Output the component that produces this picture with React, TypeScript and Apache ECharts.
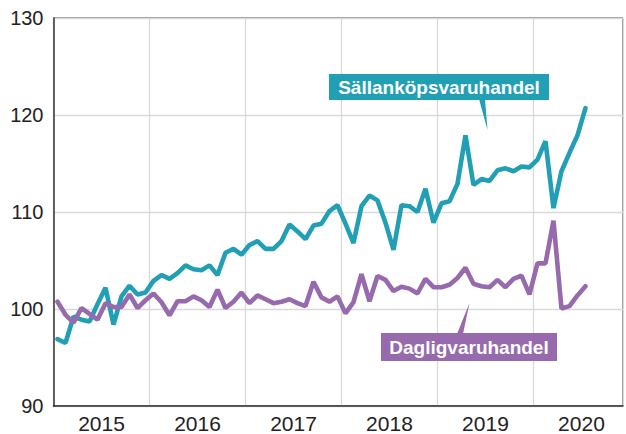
import React, { useEffect, useRef } from "react";
import * as echarts from "echarts";

const startYear = 2015;
const yearLabels = ["2015", "2016", "2017", "2018", "2019", "2020"];
const yTicks = [90, 100, 110, 120, 130];

const sallankop = [
  96.9, 96.5, 99.2, 98.9, 98.7, 100.5, 102.2, 98.4, 101.3, 102.4,
  101.5, 101.7, 102.9, 103.5, 103.1, 103.7, 104.5, 104.1, 104.0, 104.5,
  103.5, 105.8, 106.2, 105.6, 106.6, 107.0, 106.2, 106.2, 107.0, 108.7,
  108.0, 107.2, 108.6, 108.8, 110.1, 110.7, 108.8, 106.8, 110.6, 111.7,
  111.2, 108.9, 106.1, 110.7, 110.6, 110.0, 112.4, 108.9, 110.9, 111.1,
  112.9, 117.9, 112.8, 113.4, 113.2, 114.3, 114.5, 114.2, 114.7, 114.6,
  115.4, 117.3, 110.4, 114.2, 116.1, 117.9, 120.7,
];

const dagligvaru = [
  100.75, 99.4, 98.6, 100.1, 99.5, 98.9, 100.6, 100.2, 100.2, 101.5,
  100.1, 100.9, 101.6, 100.7, 99.35, 100.8, 100.8, 101.3, 100.9, 100.2,
  102.0, 100.1, 100.75, 101.7, 100.6, 101.4, 101.0, 100.6, 100.75, 101.0,
  100.6, 100.3, 102.8, 101.2, 100.75, 101.3, 99.55, 100.7, 103.6, 100.8,
  103.4, 103.0, 101.85, 102.3, 102.1, 101.6, 103.1, 102.25, 102.25, 102.5,
  103.2, 104.25, 102.6, 102.35, 102.25, 103.0, 102.25, 103.1, 103.45, 101.5,
  104.7, 104.7, 109.1, 100.05, 100.3, 101.4, 102.35,
];

const TEAL = "#219fb5";
const PURPLE = "#966aad";
const FONT = "'Liberation Sans', Arial, Helvetica, sans-serif";

// month index -> decimal year at the middle of the month
const toPoints = (vals: number[]) =>
  vals.map((v, i) => [startYear + (i + 0.5) / 12, v]);

export default function App() {
  const ref = useRef<HTMLDivElement>(null);
  useEffect(() => {
    document.body.style.margin = "0";
    if (!ref.current) return;
    const chart = echarts.init(ref.current, undefined, { renderer: "svg" });
    const gridLeft = 53.5;
    const gridRight = 0;
    const plotW = 626 - gridLeft - gridRight;
    const yearW = 96.5;
    const xMax = startYear + plotW / yearW;
    chart.setOption({
      animation: false,
      backgroundColor: "#ffffff",
      grid: {
        left: gridLeft,
        right: gridRight,
        top: 18,
        bottom: 27.3,
        show: true,
        borderColor: "#333",
        borderWidth: 1,
        containLabel: false,
      },
      xAxis: [
        {
          type: "value",
          min: startYear,
          max: xMax,
          interval: 0.5,
          position: "bottom",
          axisLine: { show: true, lineStyle: { color: "#333", width: 1.5 } },
          axisTick: { show: false },
          splitLine: { show: false },
          axisLabel: {
            fontFamily: FONT,
            fontSize: 21,
            color: "#222",
            margin: 7,
            formatter: (v: number) => {
              const f = v - Math.floor(v);
              if (Math.abs(f - 0.5) > 1e-6) return "";
              const idx = Math.floor(v) - startYear;
              return yearLabels[idx] ?? "";
            },
          },
        },
        {
          type: "value",
          min: startYear,
          max: xMax,
          interval: 1,
          position: "top",
          axisLine: { show: false },
          axisTick: { show: false },
          axisLabel: { show: false },
          splitLine: { show: true, lineStyle: { color: "#d9d9d9", width: 1.3 } },
        },
      ],
      yAxis: {
        type: "value",
        min: yTicks[0],
        max: yTicks[yTicks.length - 1],
        interval: 10,
        axisLine: { show: true, lineStyle: { color: "#333", width: 1.5 } },
        axisTick: { show: false },
        splitLine: { show: true, lineStyle: { color: "#d9d9d9", width: 1.3 } },
        axisLabel: {
          fontFamily: FONT,
          fontSize: 20,
          color: "#222",
          margin: 10,
        },
      },
      series: [
        {
          name: "Sällanköpsvaruhandel",
          type: "line",
          xAxisIndex: 0,
          data: toPoints(sallankop),
          showSymbol: false,
          symbol: "none",
          lineStyle: { color: TEAL, width: 4.6, cap: "round" },
          z: 3,
        },
        {
          name: "Dagligvaruhandel",
          type: "line",
          xAxisIndex: 0,
          data: toPoints(dagligvaru),
          showSymbol: false,
          symbol: "none",
          lineStyle: { color: PURPLE, width: 4.6, cap: "round" },
          z: 4,
        },
      ],
      graphic: [
        {
          type: "polygon",
          shape: { points: [[479, 99], [485, 99], [487.5, 130]] },
          style: { fill: TEAL },
          z: 10,
        },
        {
          type: "rect",
          shape: { x: 329, y: 74, width: 220, height: 26 },
          style: { fill: TEAL },
          z: 10,
        },
        {
          type: "text",
          x: 439,
          y: 87.5,
          style: {
            text: "Sällanköpsvaruhandel",
            fill: "#fff",
            fontFamily: FONT,
            fontSize: 19,
            fontWeight: "bold",
            align: "center",
            verticalAlign: "middle",
          },
          z: 11,
        },
        {
          type: "polygon",
          shape: { points: [[457, 334], [463, 334], [469.5, 303]] },
          style: { fill: PURPLE },
          z: 10,
        },
        {
          type: "rect",
          shape: { x: 381, y: 333, width: 176, height: 28 },
          style: { fill: PURPLE },
          z: 10,
        },
        {
          type: "text",
          x: 469,
          y: 347.5,
          style: {
            text: "Dagligvaruhandel",
            fill: "#fff",
            fontFamily: FONT,
            fontSize: 19,
            fontWeight: "bold",
            align: "center",
            verticalAlign: "middle",
          },
          z: 11,
        },
      ],
    });
    return () => chart.dispose();
  }, []);
  return <div ref={ref} style={{ width: 626, height: 434 }} />;
}
